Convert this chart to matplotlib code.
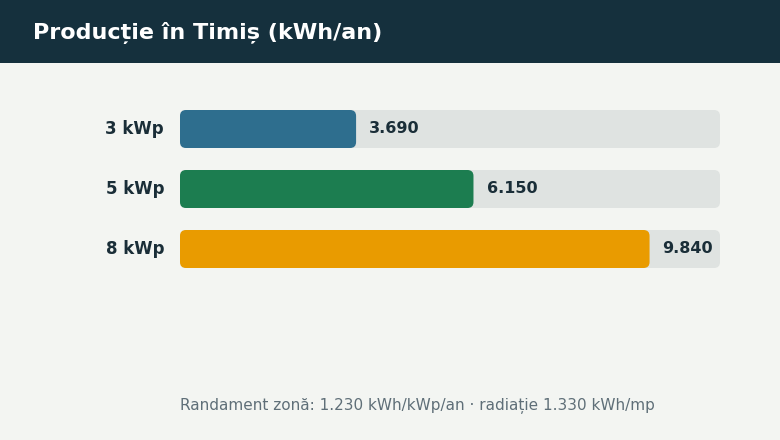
import matplotlib.pyplot as plt
from matplotlib.patches import FancyBboxPatch, Rectangle

plt.rcParams['font.family'] = ['DejaVu Sans']

categories = ["3 kWp", "5 kWp", "8 kWp"]
values = [3690, 6150, 9840]
value_labels = ["3.690", "6.150", "9.840"]
colors = ["#2e6e8e", "#1c7d50", "#e99b00"]
title = "Producție în Timiș (kWh/an)"
footer = "Randament zonă: 1.230 kWh/kWp/an · radiație 1.330 kWh/mp"

W, H = 780, 440
fig = plt.figure(figsize=(W / 100, H / 100), dpi=100)
fig.patch.set_facecolor("#f3f5f2")

# header band
fig.patches.append(Rectangle((0, 1 - 63 / H), 1, 63 / H, transform=fig.transFigure,
                             facecolor="#15303d", edgecolor="none", zorder=0))
fig.text(33 / W, 1 - 33 / H, title, color="white", fontsize=16, fontweight="bold",
         va="center", ha="left")

# bars area: 180..720 px wide, rows every 60 px
ax = fig.add_axes([180 / W, 1 - 279 / H, 540 / W, 180 / H])
ax.set_facecolor("none")
xmax = max(values) * 1.15
ax.set_xlim(0, xmax)
ax.set_ylim(len(values) - 0.5, -0.5)
for s in ax.spines.values():
    s.set_visible(False)
ax.set_xticks([])
ax.set_yticks(range(len(categories)))
ax.set_yticklabels(categories, fontsize=12, fontweight="bold", color="#1a2e38",
                   va="center")
ax.tick_params(axis="y", length=0, pad=11.5)

xpp = xmax / 540  # data units per pixel
aspect = (1 / 60) / xpp
bh = 38 / 60
r = 6 * xpp
for i, (v, c, lab) in enumerate(zip(values, colors, value_labels)):
    ax.add_patch(FancyBboxPatch((0, i - bh / 2), xmax, bh,
                                boxstyle=f"round,pad=0,rounding_size={r}",
                                mutation_aspect=aspect, facecolor="#dfe3e1",
                                edgecolor="none", zorder=1))
    ax.add_patch(FancyBboxPatch((0, i - bh / 2), v, bh,
                                boxstyle=f"round,pad=0,rounding_size={r}",
                                mutation_aspect=aspect, facecolor=c,
                                edgecolor="none", zorder=2))
    ax.annotate(lab, (v, i), xytext=(9.4, 0), textcoords="offset points",
                va="center", ha="left", fontsize=11.5, fontweight="bold",
                color="#1a2e38", zorder=3)

fig.text(180 / W, 1 - 406 / H, footer, color="#5f6f78", fontsize=11,
         va="center", ha="left")

fig.savefig("out.png", dpi=100, facecolor=fig.get_facecolor())
